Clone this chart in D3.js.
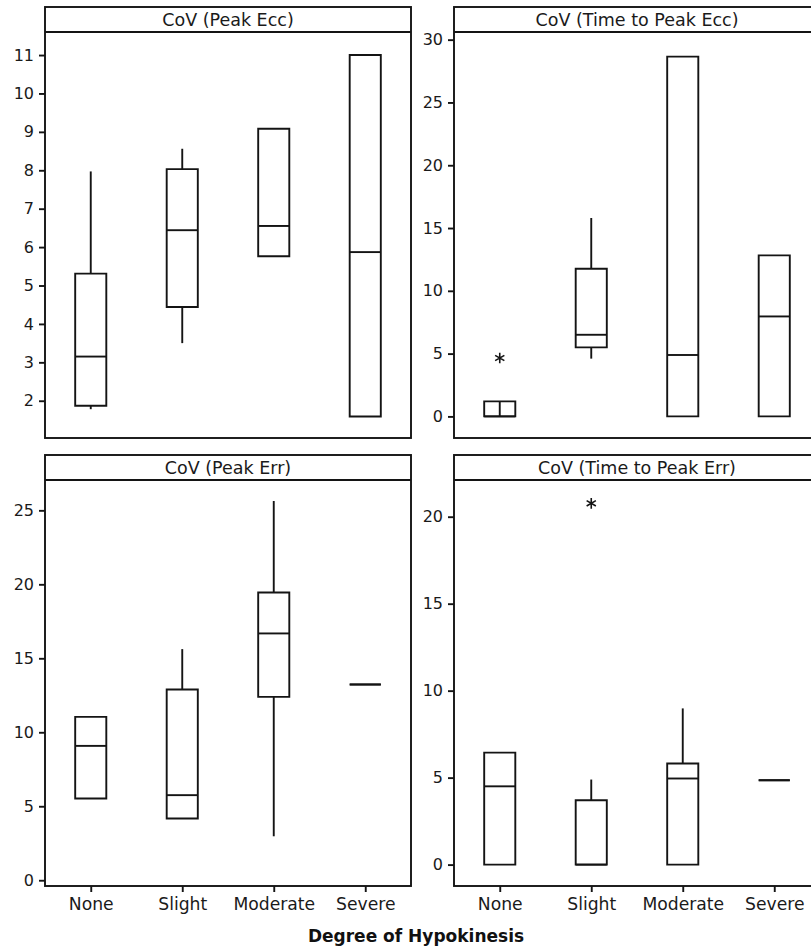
<!DOCTYPE html>
<html>
<head>
<meta charset="utf-8">
<script src="https://cdn.jsdelivr.net/npm/d3@7"></script>
<style>
  html, body { margin: 0; padding: 0; background: #fff; }
  svg { display: block; font-family: "DejaVu Sans", Verdana, sans-serif; }
</style>
</head>
<body>
<svg id="chart" width="811" height="951"></svg>
<script>
// Categories and panel labels
const categories = ["None", "Slight", "Moderate", "Severe"];
const panelTitles = ["CoV (Peak Ecc)", "CoV (Time to Peak Ecc)", "CoV (Peak Err)", "CoV (Time to Peak Err)"];
const axisTitle = "Degree of Hypokinesis";

// Box statistics, one row per panel, one value per category
const q1Values      = [[1.87, 4.44, 5.76, 1.59], [0, 5.5, 0, 0],       [5.52, 4.17, 12.39, 13.23], [0, 0, 0, 4.85]];
const medianValues  = [[3.15, 6.44, 6.55, 5.87], [0, 6.5, 4.89, 7.96], [9.08, 5.75, 16.68, 13.23], [4.5, 0, 4.95, 4.85]];
const q3Values      = [[5.31, 8.03, 9.08, 11.0], [1.2, 11.76, 28.65, 12.82], [11.04, 12.89, 19.45, 13.23], [6.44, 3.7, 5.81, 4.85]];
const whiskerLow    = [[1.78, 3.5, null, null], [null, 4.6, null, null], [null, null, 2.97, null], [null, null, null, null]];
const whiskerHigh   = [[7.97, 8.56, null, null], [null, 15.8, null, null], [null, 15.62, 25.63, null], [null, 4.89, 8.98, null]];
// vertical line through a box (drawn for the degenerate None box)
const centerSpans   = [[null, null, null, null], [[0, 1.2], null, null, null], [null, null, null, null], [null, null, null, null]];
// outliers: [category, value]
const outlierPoints = [[], [["None", 4.65]], [], [["Slight", 20.77]]];

// Axis extents and tick labels
const yDomains = [[1.03, 11.6], [-1.72, 30.61], [-0.39, 27.05], [-1.23, 22.11]];
const yTickValues = [
  [2, 3, 4, 5, 6, 7, 8, 9, 10, 11],
  [0, 5, 10, 15, 20, 25, 30],
  [0, 5, 10, 15, 20, 25],
  [0, 5, 10, 15, 20]
];

// Layout
const colX = [[45, 411], [454, 820]];
const rowY = [{ top: 7, head: 32, bottom: 438 }, { top: 455, head: 480, bottom: 886 }];
const ink = "#141414";
const lw = 1.9;

const svg = d3.select("#chart");

panelTitles.forEach((title, p) => {
  const col = p % 2, row = Math.floor(p / 2);
  const [x0, x1] = colX[col];
  const r = rowY[row];

  const x = d3.scalePoint().domain(categories).range([x0, x1]).padding(0.5);
  const y = d3.scaleLinear().domain(yDomains[p]).range([r.bottom, r.head]);
  const boxW = x.step() * 0.34;

  const g = svg.append("g");

  // y axis
  const yAxis = d3.axisLeft(y).tickValues(yTickValues[p]).tickSize(6).tickPadding(5).tickFormat(d3.format("d"));
  const ya = g.append("g").attr("transform", `translate(${x0},0)`).call(yAxis);
  ya.select(".domain").remove();
  ya.selectAll(".tick line").attr("stroke", ink).attr("stroke-width", lw);
  ya.selectAll(".tick text").attr("fill", "#1a1a1a").style("font-size", "16px").style("font-family", "DejaVu Sans");

  // x axis (bottom row only)
  if (row === 1) {
    const xAxis = d3.axisBottom(x).tickSize(6).tickPadding(6);
    const xa = g.append("g").attr("transform", `translate(0,${r.bottom})`).call(xAxis);
    xa.select(".domain").remove();
    xa.selectAll(".tick line").attr("stroke", ink).attr("stroke-width", lw);
    xa.selectAll(".tick text").attr("fill", "#1a1a1a").style("font-size", "17.2px").style("font-family", "DejaVu Sans");
  }

  // whiskers
  categories.forEach((c, i) => {
    const cx = x(c);
    if (whiskerHigh[p][i] != null) {
      g.append("line").attr("x1", cx).attr("x2", cx)
        .attr("y1", y(q3Values[p][i])).attr("y2", y(whiskerHigh[p][i]))
        .attr("stroke", ink).attr("stroke-width", lw);
    }
    if (whiskerLow[p][i] != null) {
      g.append("line").attr("x1", cx).attr("x2", cx)
        .attr("y1", y(q1Values[p][i])).attr("y2", y(whiskerLow[p][i]))
        .attr("stroke", ink).attr("stroke-width", lw);
    }
    // box outline
    const bx0 = cx - boxW / 2, bx1 = cx + boxW / 2;
    const yq1 = y(q1Values[p][i]), yq3 = y(q3Values[p][i]);
    g.append("path")
      .attr("d", `M${bx0},${yq1}L${bx0},${yq3}L${bx1},${yq3}L${bx1},${yq1}Z`)
      .attr("fill", "none").attr("stroke", ink).attr("stroke-width", lw)
      .attr("stroke-linejoin", "miter");
    // median
    g.append("line").attr("x1", bx0).attr("x2", bx1)
      .attr("y1", y(medianValues[p][i])).attr("y2", y(medianValues[p][i]))
      .attr("stroke", ink).attr("stroke-width", lw);
    // center span
    const span = centerSpans[p][i];
    if (span) {
      g.append("line").attr("x1", cx).attr("x2", cx)
        .attr("y1", y(span[0])).attr("y2", y(span[1]))
        .attr("stroke", ink).attr("stroke-width", lw);
    }
  });

  // outliers
  const star = d3.symbol().type(d3.symbolAsterisk).size(80);
  outlierPoints[p].forEach(([c, v]) => {
    g.append("path").attr("d", star())
      .attr("transform", `translate(${x(c)},${y(v)})`)
      .attr("fill", "none").attr("stroke", ink).attr("stroke-width", 1.6);
  });

  // frame and header strip
  g.append("rect").attr("x", x0).attr("y", r.top)
    .attr("width", x1 - x0).attr("height", r.bottom - r.top)
    .attr("fill", "none").attr("stroke", ink).attr("stroke-width", lw);
  g.append("line").attr("x1", x0).attr("x2", x1).attr("y1", r.head).attr("y2", r.head)
    .attr("stroke", ink).attr("stroke-width", lw);
  g.append("text").attr("x", (x0 + x1) / 2).attr("y", (r.top + r.head) / 2 + 1)
    .attr("text-anchor", "middle").attr("dominant-baseline", "middle")
    .attr("fill", "#1a1a1a").style("font-size", "17.5px").text(title);
});

// shared x axis title
svg.append("text").attr("x", 416).attr("y", 942)
  .attr("text-anchor", "middle").attr("fill", "#111")
  .style("font-size", "17px").style("font-weight", "bold")
  .text(axisTitle);
</script>
</body>
</html>
